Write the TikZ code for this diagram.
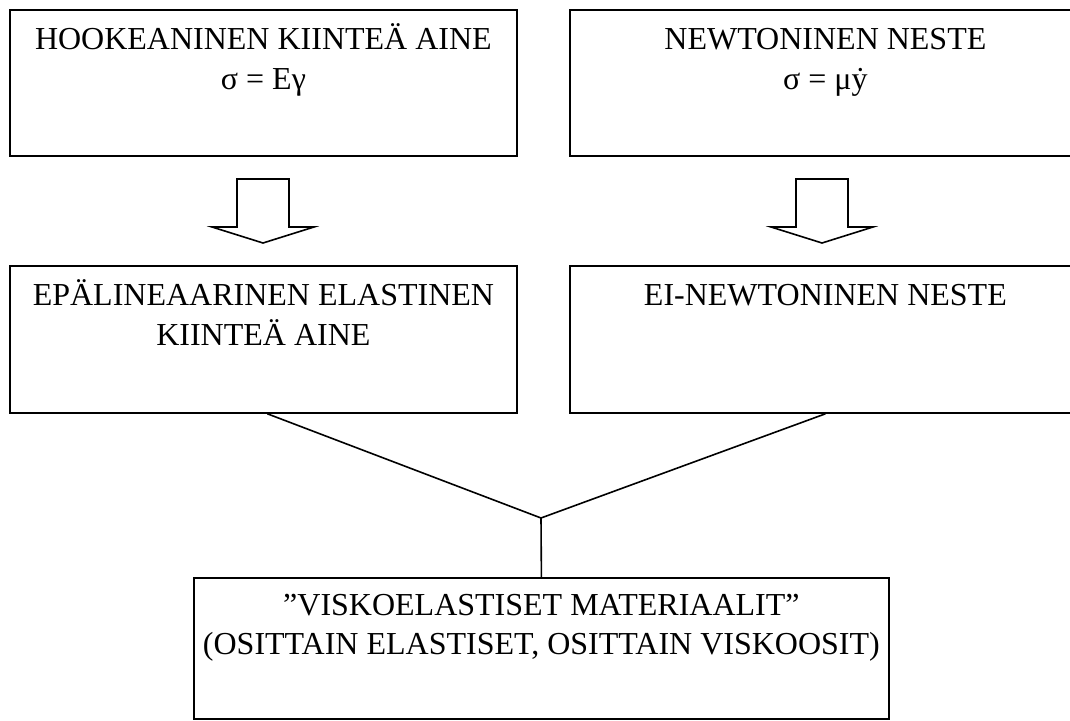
\documentclass[tikz,border=0pt]{standalone}
\usepackage{fontspec}
\setmainfont{Liberation Serif}
\begin{document}
\begin{tikzpicture}[x=1pt,y=-1pt,
  box/.style={draw=black,line width=1.8pt,rectangle,inner sep=0pt,anchor=north west},
  txt/.style={inner sep=0pt,anchor=base,font=\fontsize{32}{40}\selectfont},
  conn/.style={draw=black,line width=1.6pt},
  blockarrow/.style={draw=black,line width=1.6pt,line join=miter,fill=white}]
\useasboundingbox (0,0) rectangle (1070,720);
\clip (0,0) rectangle (1070,720);
% boxes
\node[box,minimum width=507pt,minimum height=146pt] (hooke) at (9,9) {};
\node[box,minimum width=511pt,minimum height=146pt] (newton) at (569,9) {};
\node[box,minimum width=507pt,minimum height=147pt] (epal) at (9,265) {};
\node[box,minimum width=511pt,minimum height=147pt] (einewt) at (569,265) {};
\node[box,minimum width=695pt,minimum height=141pt] (visko) at (193,577) {};
% texts
\node[txt] (t1a) at ([yshift=-40pt]hooke.north) {HOOKEANINEN KIINTEÄ AINE};
\node[txt] (t1b) at ([yshift=-80pt]hooke.north) {σ = Eγ};
\node[txt] (t2a) at ([yshift=-40pt]newton.north) {NEWTONINEN NESTE};
\node[txt] (t2b) at ([yshift=-80pt]newton.north) {σ = μ\symbol{"1E8F}};
\node[txt] (t3a) at ([yshift=-40pt]epal.north) {EPÄLINEAARINEN ELASTINEN};
\node[txt] (t3b) at ([yshift=-80pt]epal.north) {KIINTEÄ AINE};
\node[txt] (t4a) at ([yshift=-40pt]einewt.north) {EI-NEWTONINEN NESTE};
\node[txt] (t5a) at ([yshift=-38pt]visko.north) {”VISKOELASTISET MATERIAALIT”};
\node[txt] (t5b) at ([yshift=-77pt]visko.north) {(OSITTAIN ELASTISET, OSITTAIN VISKOOSIT)};
% block arrows
\coordinate (a1) at (263,243);
\coordinate (a2) at (822,243);
\foreach \c in {a1,a2}{
  \path[blockarrow] ([xshift=-26pt,yshift=64pt]\c) -- ([xshift=26pt,yshift=64pt]\c)
    -- ([xshift=26pt,yshift=16pt]\c) -- ([xshift=51pt,yshift=16pt]\c) -- (\c)
    -- ([xshift=-51pt,yshift=16pt]\c) -- ([xshift=-26pt,yshift=16pt]\c) -- cycle;
}
% connectors
\coordinate (j) at (541,518);
\path[conn] (epal.south) ++(4pt,0) -- (j);
\path[conn] (einewt.south) -- (j);
\path[conn] (j) -- (visko.north);
\end{tikzpicture}
\end{document}
